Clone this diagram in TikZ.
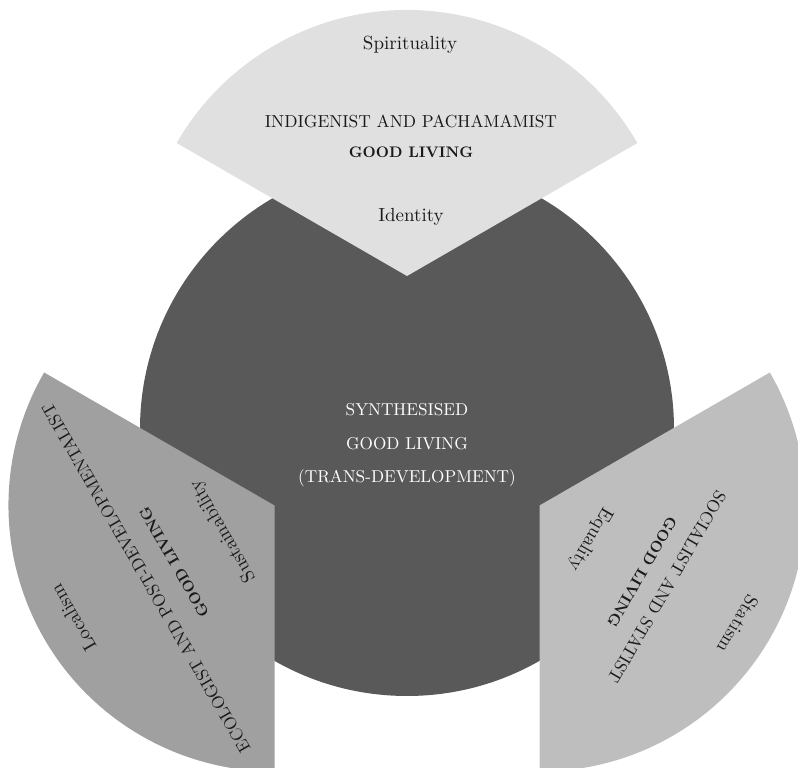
\documentclass[tikz,border=0pt]{standalone}
\usepackage{fontspec}
\setmainfont{lmroman10-regular.otf}[BoldFont=lmroman10-bold.otf]
\definecolor{circfill}{HTML}{595959}
\definecolor{topfill}{HTML}{E0E0E0}
\definecolor{leftfill}{HTML}{A0A0A0}
\definecolor{rightfill}{HTML}{BEBEBE}
\definecolor{ink}{HTML}{1A1A1A}
\tikzset{
  label/.style={inner sep=0pt, font=\fontsize{19}{22}\selectfont, text=ink},
  title/.style={inner sep=0pt, font=\fontsize{17.4}{20}\selectfont, text=ink},
  boldtitle/.style={inner sep=0pt, font=\fontsize{15.3}{18}\selectfont\bfseries, text=ink},
  centre/.style={inner sep=0pt, font=\fontsize{17.2}{20}\selectfont, text=white},
}
\begin{document}
\begin{tikzpicture}[x=1pt,y=1pt]
\useasboundingbox (0,0) rectangle (798,768);
\clip (0,0) rectangle (798,768);
\coordinate (C) at (407,339);
\coordinate (T) at (407,492);
\coordinate (L) at (274.5,262.5);
\coordinate (R) at (539.5,262.5);
% central circle
\fill[circfill] (C) circle[radius=267pt];
% sectors
\fill[topfill] (T) -- ++(30:266pt) arc[start angle=30, end angle=150, radius=266pt] -- cycle;
\fill[leftfill] (L) -- ++(150:266pt) arc[start angle=150, end angle=270, radius=266pt] -- cycle;
\fill[rightfill] (R) -- ++(-90:266pt) arc[start angle=-90, end angle=30, radius=266pt] -- cycle;
% top texts
\node[label] (spir) at (410,723) {Spirituality};
\node[title] (indig) at (411,647) {INDIGENIST AND PACHAMAMIST};
\node[boldtitle] (gltop) at (411,616) {GOOD LIVING};
\node[label] (ident) at (411,551) {Identity};
% centre texts
\node[centre] (syn) at (407,358) {SYNTHESISED};
\node[centre] (glc) at (407,324) {GOOD LIVING};
\node[centre] (trans) at (407,290) {(TRANS-DEVELOPMENT)};
% left texts
\node[label, rotate=120] (local) at (73,150) {Localism};
\node[title, rotate=120] (ecol) at (146,190) {ECOLOGIST AND POST-DEVELOPMENTALIST};
\node[boldtitle, rotate=120] (glleft) at (174,206) {GOOD LIVING};
\node[label, rotate=120] (sust) at (223,237) {Sustainability};
% right texts
\node[label, rotate=-120] (stat) at (738,144) {Statism};
\node[title, rotate=-120] (soc) at (667,181) {SOCIALIST AND STATIST};
\node[boldtitle, rotate=-120] (glright) at (642,196) {GOOD LIVING};
\node[label, rotate=-120] (equal) at (590,229) {Equality};
\end{tikzpicture}
\end{document}
